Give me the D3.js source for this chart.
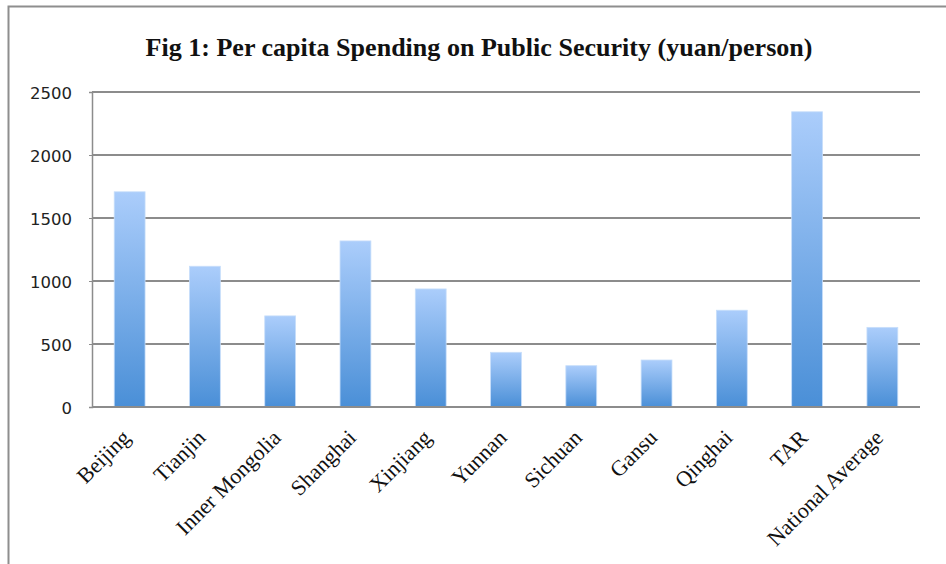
<!DOCTYPE html>
<html>
<head>
<meta charset="utf-8">
<script src="https://cdn.jsdelivr.net/npm/d3@7"></script>
<style>
  body { margin: 0; background: #fff; }
</style>
</head>
<body>
<div id="chart"></div>
<script>
// Data
const categories = ["Beijing", "Tianjin", "Inner Mongolia", "Shanghai", "Xinjiang", "Yunnan",
    "Sichuan", "Gansu", "Qinghai", "TAR", "National Average"];
const spending = [1708, 1117, 723, 1318, 937, 434, 328, 373, 768, 2343, 632];
const yTicks = [0, 500, 1000, 1500, 2000, 2500];

const width = 946;
const height = 564;
const margin = { top: 92, right: 26, bottom: 157, left: 92 };

const svg = d3.select("#chart")
    .append("svg")
    .attr("width", width)
    .attr("height", height);

// outer frame (cut off on right/bottom)
svg.append("rect")
    .attr("x", 8.5).attr("y", 6.5)
    .attr("width", 960).attr("height", 600)
    .attr("fill", "none")
    .attr("stroke", "#8e8e8e")
    .attr("stroke-width", 2);

// gradient for bars
const grad = svg.append("defs").append("linearGradient")
    .attr("id", "barGrad")
    .attr("x1", 0).attr("y1", 0).attr("x2", 0).attr("y2", 1);
grad.append("stop").attr("offset", "0%").attr("stop-color", "#abcdfb");
grad.append("stop").attr("offset", "100%").attr("stop-color", "#4a8fd7");

// Title
svg.append("text")
    .attr("x", 479)
    .attr("y", 56)
    .attr("text-anchor", "middle")
    .attr("textLength", 667)
    .attr("lengthAdjust", "spacingAndGlyphs")
    .style("font-family", "'Liberation Serif', 'Times New Roman', serif")
    .style("font-weight", "bold")
    .style("font-size", "26px")
    .style("fill", "#111")
    .text("Fig 1: Per capita Spending on Public Security (yuan/person)");

const x = d3.scaleBand()
    .domain(categories)
    .range([margin.left, width - margin.right])
    .paddingInner(0.59)
    .paddingOuter(0.295);

const y = d3.scaleLinear()
    .domain([0, 2500])
    .range([height - margin.bottom, margin.top]);

// gridlines
svg.append("g")
    .selectAll("line")
    .data(yTicks)
    .enter().append("line")
    .attr("x1", margin.left)
    .attr("x2", width - margin.right)
    .attr("y1", d => y(d))
    .attr("y2", d => y(d))
    .attr("stroke", "#8c8c8c")
    .attr("stroke-width", 2);

// y axis
const yAxis = svg.append("g")
    .attr("transform", `translate(${margin.left},0)`)
    .call(d3.axisLeft(y).tickValues(yTicks).tickFormat(d3.format("d")).tickSize(3).tickPadding(17));
yAxis.attr("font-family", "'DejaVu Sans', Verdana, sans-serif")
    .attr("font-size", 16.5);
yAxis.select(".domain").attr("stroke", "#8c8c8c").attr("stroke-width", 1.5);
yAxis.selectAll(".tick line").attr("stroke", "#8c8c8c");
yAxis.selectAll(".tick text")
    .attr("dy", "0.4em")
    .attr("fill", "#222");

// bars
svg.append("g")
    .selectAll("rect")
    .data(spending)
    .enter().append("rect")
    .attr("x", (d, i) => x(categories[i]))
    .attr("y", d => y(d))
    .attr("width", x.bandwidth())
    .attr("height", d => y(0) - y(d))
    .attr("fill", "url(#barGrad)")
    .attr("stroke", "#c7defa")
    .attr("stroke-width", 0.8);

// baseline
svg.append("line")
    .attr("x1", margin.left)
    .attr("x2", width - margin.right)
    .attr("y1", y(0))
    .attr("y2", y(0))
    .attr("stroke", "#8c8c8c")
    .attr("stroke-width", 2);

// x labels
svg.append("g")
    .selectAll("text")
    .data(categories)
    .enter().append("text")
    .attr("transform", d => `translate(${x(d) + x.bandwidth() / 2 + 2},${y(0) + 32}) rotate(-45)`)
    .attr("text-anchor", "end")
    .style("font-family", "'Liberation Serif', 'Times New Roman', serif")
    .style("font-size", "22px")
    .style("fill", "#111")
    .text(d => d);
</script>
</body>
</html>
